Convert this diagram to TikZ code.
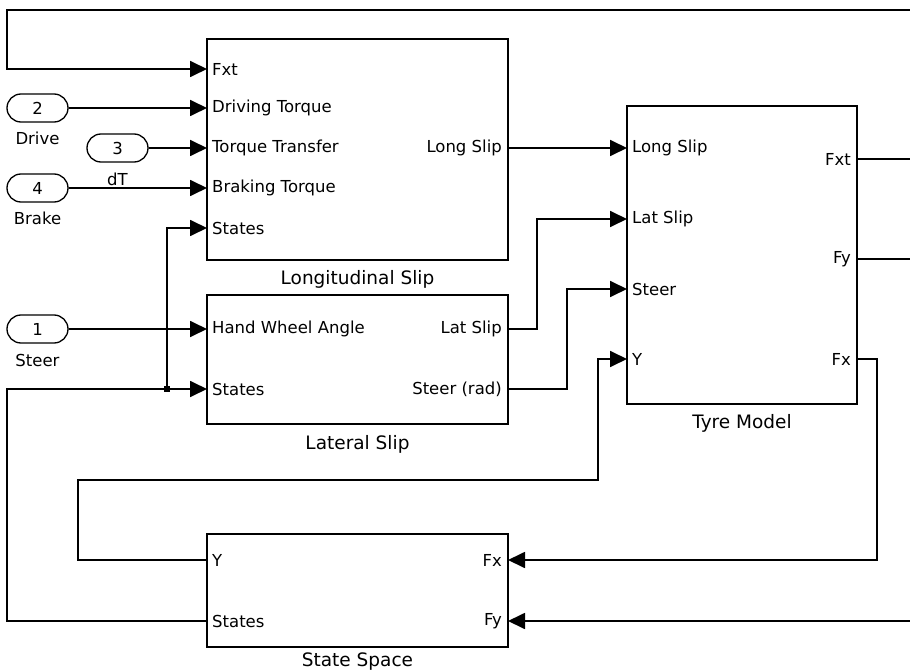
\documentclass[tikz,border=0pt]{standalone}
\usepackage{fontspec}
\setmainfont{DejaVu Sans}
\usepackage{tikz}
\usetikzlibrary{arrows.meta,shapes.misc,positioning}
\tikzset{
    block/.style={draw, line width=1.8pt, inner sep=0pt},
    blab/.style={font=\fontsize{18.5}{20}\selectfont, inner sep=0pt},
    inlab/.style={anchor=west, inner xsep=5pt, inner ysep=0pt, font=\fontsize{16.5}{18}\selectfont},
    outlab/.style={anchor=east, inner xsep=6pt, inner ysep=0pt, font=\fontsize{16.5}{18}\selectfont},
    inport/.style={draw, rounded rectangle, line width=1.3pt, minimum width=61pt,
                   minimum height=28pt, inner sep=0pt, font=\fontsize{16.5}{18}\selectfont},
    plab/.style={font=\fontsize{16.5}{18}\selectfont, inner sep=0pt},
    wire/.style={line width=1.8pt},
    sig/.style={line width=1.8pt, -{Triangle[length=17pt,width=16pt]}},
}
\begin{document}
\begin{tikzpicture}[x=1pt, y=-1pt]
    \useasboundingbox (0,0) rectangle (910,671);
    % Blocks
    \node[block, minimum width=301pt, minimum height=221pt,
          label={[blab, label distance=9pt]below:Longitudinal Slip}] (ls) at (357.5,149.5) {};
    \node[block, minimum width=301pt, minimum height=129pt,
          label={[blab, label distance=10pt]below:Lateral Slip}] (la) at (357.5,359.5) {};
    \node[block, minimum width=230pt, minimum height=298pt,
          label={[blab, label distance=9pt]below:Tyre Model}] (tm) at (742,255) {};
    \node[block, minimum width=301pt, minimum height=113pt,
          label={[blab, label distance=5pt]below:State Space}] (ss) at (357.5,590.5) {};
    % Ports
    \node[inlab] (lsFxt) at (207,69) {Fxt};
    \node[inlab] (lsDrv) at (207,108) {Driving Torque};
    \node[inlab] (lsTT) at (207,148) {Torque Transfer};
    \node[inlab] (lsBrk) at (207,188) {Braking Torque};
    \node[inlab] (lsSt) at (207,228) {States};
    \node[outlab] (lsOut) at (508,148) {Long Slip};
    \node[inlab] (laHWA) at (207,329) {Hand Wheel Angle};
    \node[inlab] (laSt) at (207,389) {States};
    \node[outlab] (laLat) at (508,329) {Lat Slip};
    \node[outlab] (laSteer) at (508,389) {Steer (rad)};
    \node[inlab] (tmLong) at (627,148) {Long Slip};
    \node[inlab] (tmLat) at (627,219) {Lat Slip};
    \node[inlab] (tmSteer) at (627,289) {Steer};
    \node[inlab] (tmY) at (627,359) {Y};
    \node[outlab] (tmFxt) at (857,159) {Fxt};
    \node[outlab] (tmFy) at (857,259) {Fy};
    \node[outlab] (tmFx) at (857,359) {Fx};
    \node[inlab] (ssY) at (207,560) {Y};
    \node[inlab] (ssSt) at (207,621) {States};
    \node[outlab] (ssFx) at (508,560) {Fx};
    \node[outlab] (ssFy) at (508,621) {Fy};
    % Inports
    \node[inport, label={[plab, label distance=9pt]below:Drive}] (in2) at (37.5,108) {2};
    \node[inport, label={[plab, label distance=10pt]below:dT}] (in3) at (117.5,148) {3};
    \node[inport, label={[plab, label distance=9pt]below:Brake}] (in4) at (37.5,188) {4};
    \node[inport, label={[plab, label distance=10pt]below:Steer}] (in1) at (37.5,329) {1};
    % Free ends at the right border
    \coordinate (eTop) at (910,10);
    \coordinate (eFxt) at (910,159);
    \coordinate (eFy) at (910,259);
    \coordinate (eFyIn) at (910,621);
    \coordinate (jn) at (167,389);
    % Wires
    \draw[sig] (eTop) -- (7,10) |- (lsFxt.west);
    \draw[sig] (in2) -- (lsDrv.west);
    \draw[sig] (in3) -- (lsTT.west);
    \draw[sig] (in4) -- (lsBrk.west);
    \draw[sig] (lsOut.east) -- (tmLong.west);
    \draw[sig] (in1) -- (laHWA.west);
    \draw[sig] (laLat.east) -- ++(29,0) |- (tmLat.west);
    \draw[sig] (laSteer.east) -- ++(59,0) |- (tmSteer.west);
    \draw[sig] (ssSt.west) -| (7,389) -- (laSt.west);
    \draw[sig] (jn) |- (lsSt.west);
    \fill ([shift={(-3,-3)}]jn) rectangle ++(6,6);
    \draw[sig] (ssY.west) -- (78,560) -- (78,480) -- (598,480) |- (tmY.west);
    \draw[sig] (tmFx.east) -- (877,359) |- (ssFx.east);
    \draw[sig] (eFyIn) -- (ssFy.east);
    \draw[wire] (tmFxt.east) -- (eFxt);
    \draw[wire] (tmFy.east) -- (eFy);
\end{tikzpicture}
\end{document}
